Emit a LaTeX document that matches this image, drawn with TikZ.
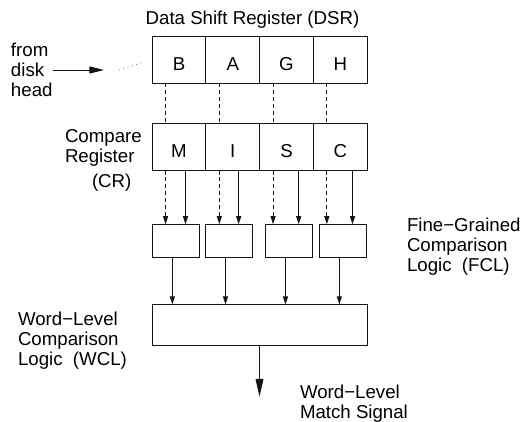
\documentclass[tikz,border=0pt]{standalone}
\usepackage{fontspec}
\setmainfont{Liberation Sans}
\usetikzlibrary{
  arrows.meta,
  positioning,
  calc
}
\definecolor{linecolor}{RGB}{20, 20, 20}
\definecolor{dotcolor}{RGB}{110, 110, 110}
\tikzset{
labeltext/.style={
  font=\fontsize{14}{15}\selectfont,
  inner sep=0pt,
  outer sep=0pt
},
cellblock/.style={
  draw=linecolor,
  line width=0.7pt,
  minimum width=40.31pt,
  minimum height=35.25pt,
  text height=15.75pt,
  text depth=0pt,
  labeltext
},
fclblock/.style={
  draw=linecolor,
  line width=0.7pt,
  minimum width=35.25pt,
  minimum height=25.3pt,
  inner sep=0pt,
  outer sep=0pt
},
wclblock/.style={
  draw=linecolor,
  line width=0.7pt,
  minimum width=161.25pt,
  minimum height=30.5pt,
  inner sep=0pt,
  outer sep=0pt
},
arrow/.style={
  -{Triangle[length=6pt,width=3.8pt]},
  line width=0.7pt,
  draw=linecolor
},
dasharrow/.style={
  arrow,
  dash pattern=on 3pt off 2.2pt
},
dashline/.style={
  line width=0.7pt,
  draw=linecolor,
  dash pattern=on 3pt off 2.2pt
},
inarrow/.style={
  -{Triangle[length=11pt,width=5.2pt]},
  line width=0.7pt,
  draw=linecolor
},
bigarrow/.style={
  -{Triangle[length=13.3pt,width=5.8pt]},
  line width=0.7pt,
  draw=linecolor
},
dotline/.style={
  draw=dotcolor,
  line width=0.6pt,
  dash pattern=on 0.6pt off 2.8pt
}
}
\begin{document}
\begin{tikzpicture}[x=0.75pt,y=-0.75pt]
\useasboundingbox (0,0) rectangle (523,421);
% data shift register
\node[labeltext, anchor=base] (dsrlabel) at (252.5,24) {Data Shift Register (DSR)};
\node[cellblock] (d1) at (179,59.5) {B};
\node[cellblock, right=0pt of d1] (d2) {A};
\node[cellblock, right=0pt of d2] (d3) {G};
\node[cellblock, right=0pt of d3] (d4) {H};
% input from the disk
\node[labeltext, anchor=west, align=left] (disk) at (11,70) {from\\disk\\head};
\coordinate (inend) at (104,70);
\coordinate (dots) at (119,70);
\draw[inarrow] (disk.east) -- (inend);
\draw[dotline, shorten >=6.75pt] (dots) -- (d1.west);
% compare register
\node[cellblock] (c1) at (179,147) {M};
\node[cellblock, right=0pt of c1] (c2) {I};
\node[cellblock, right=0pt of c2] (c3) {S};
\node[cellblock, right=0pt of c3] (c4) {C};
\node[labeltext, anchor=west, align=left] (crlabel) at (65,147.5) {Compare\\Register};
\node[labeltext, anchor=base west] (crtag) at (92,187) {(CR)};
% fine-grained comparison logic
\node[fclblock] (f1) at (175.65,241) {};
\node[fclblock] (f2) at (228.8,241) {};
\node[fclblock] (f3) at (288.8,241) {};
\node[fclblock] (f4) at (342.65,241) {};
\node[labeltext, anchor=west, align=left] (fcllabel) at (407,247) {Fine−Grained\\Comparison\\Logic\ \ (FCL)};
% word-level comparison logic
\node[wclblock] (wcl) at (259.5,324.7) {};
\node[labeltext, anchor=west, align=left] (wcllabel) at (18,340.8) {Word−Level\\Comparison\\Logic\ \ (WCL)};
\coordinate (match) at (259.5,396.7);
\draw[bigarrow] (wcl.south) -- (match);
\node[labeltext, anchor=west, align=left] (matchlabel) at (300,403.6) {Word−Level\\Match Signal};
% links
\foreach \i in {1,...,4}{
  \draw[dashline] ($(d\i.south west)!0.25!(d\i.south east)$) coordinate (dtop\i) -- (dtop\i |- c\i.north);
  \draw[dasharrow] ($(c\i.south west)!0.25!(c\i.south east)$) coordinate (ctop\i) -- (ctop\i |- f\i.north);
  \coordinate (sbot\i) at ($(f\i.north west)!0.71!(f\i.north east)$);
  \draw[arrow] (sbot\i |- c\i.south) -- (sbot\i);
  \coordinate (fout\i) at ($(f\i.south west)!0.43!(f\i.south east)$);
  \draw[arrow] (fout\i) -- (fout\i |- wcl.north);
}
\end{tikzpicture}
\end{document}
